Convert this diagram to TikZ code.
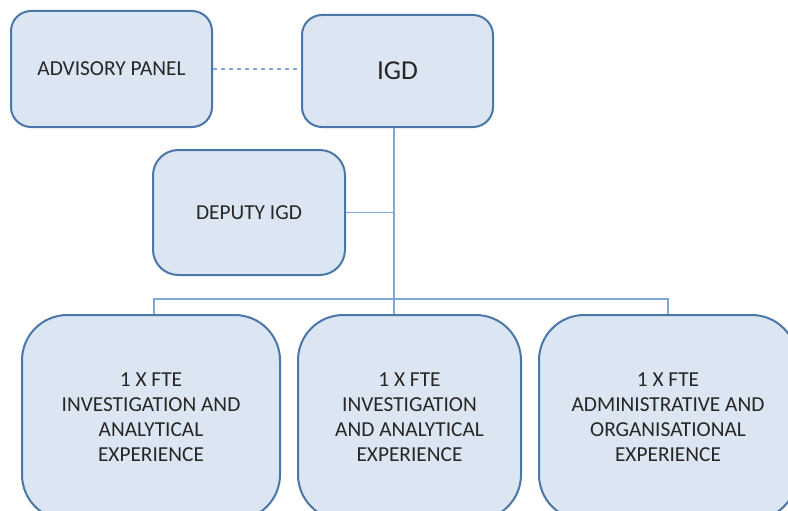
\documentclass[tikz,border=0pt]{standalone}
\usepackage{fontspec}
\setmainfont{Carlito}
\usetikzlibrary{positioning}
\usetikzlibrary{calc}
\definecolor{boxfill}{HTML}{DCE6F2}
\definecolor{boxline}{HTML}{4A76A8}
\definecolor{linkline}{HTML}{7EA8D8}
\tikzstyle{post}=[draw=boxline,fill=boxfill,line width=1.5pt,rounded corners=15pt,align=center,text=black!85,font=\fontsize{16}{18.75}\selectfont]
\tikzstyle{bigpost}=[post,rounded corners=34pt,minimum height=153.75pt]
\tikzstyle{link} = [draw,linkline,line width=1pt]
\tikzstyle{dashedlink} = [link,dashed]

\begin{document}
\begin{tikzpicture}[x=0.75pt,y=-0.75pt]
    \useasboundingbox (0,0) rectangle (788,510);
    \clip (0,0) rectangle (788,510);

    \node[post,minimum width=150.75pt,minimum height=87pt] (advisory) at (111.5,69) {ADVISORY PANEL};
    \node[post,minimum width=143.25pt,minimum height=84pt,font=\fontsize{20.5}{24}\selectfont] (igd) at (397.5,71) {IGD};
    \node[post,rounded corners=19pt,minimum width=144pt,minimum height=93.75pt] (deputy) at (249,212.5) {DEPUTY IGD};

    \foreach \pos/\name/\boxwd/\txt in {{(151,417.5)/fteA/193.5pt/{1 X FTE\\INVESTIGATION AND\\ANALYTICAL\\EXPERIENCE}},
            {(409.5,417.5)/fteB/167.25pt/{1 X FTE\\INVESTIGATION\\AND ANALYTICAL\\EXPERIENCE}},
            {(668,417.5)/fteC/193.5pt/{1 X FTE\\ADMINISTRATIVE AND\\ORGANISATIONAL\\EXPERIENCE}}}
        \node[bigpost,minimum width=\boxwd] (\name) at \pos {\txt};

    % reporting lines
    \coordinate (trunk) at ($(igd.south)+(-3.5,0)$);
    \coordinate (bus) at ($(trunk)+(0,171)$);
    \path[dashedlink] (advisory.east) -- (advisory.east -| igd.west);
    \path[link] (trunk) -- (trunk |- fteB.north);
    \path[link] (deputy.east) -- (deputy.east -| trunk);
    \path[link] ($(fteA.north)+(3,0)$) |- (bus) -| (fteC.north);

\end{tikzpicture}
\end{document}
